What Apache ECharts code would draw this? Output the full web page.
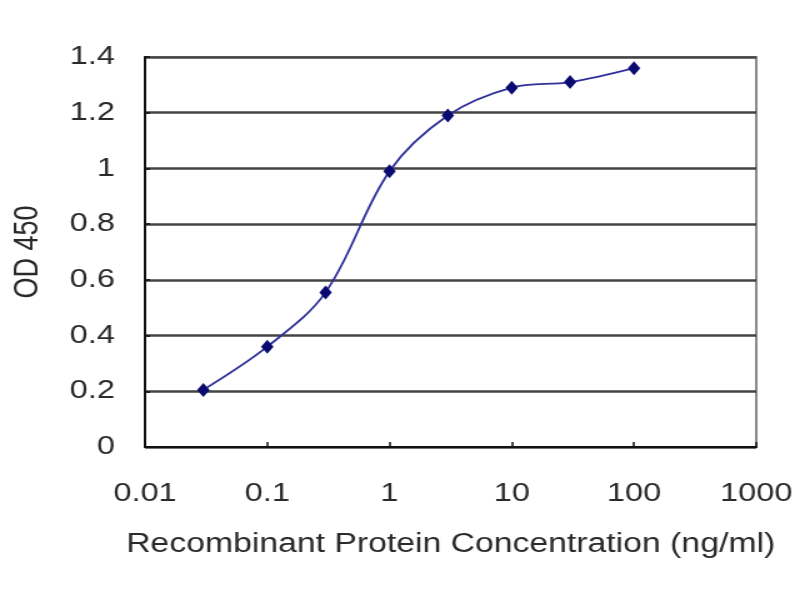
<!DOCTYPE html>
<html>
<head>
<meta charset="utf-8">
<script src="https://cdn.jsdelivr.net/npm/echarts@6/dist/echarts.min.js"></script>
<style>
  html, body { margin: 0; padding: 0; background: #fff; overflow: hidden; }
  #wrap { width: 800px; height: 600px; overflow: hidden; }
  #chart { width: 640px; height: 600px; transform: scaleX(1.25); transform-origin: 0 0; }
</style>
</head>
<body>
<div id="wrap"><div id="chart"></div></div>
<script>
// Data
const concentrations = [0.03, 0.1, 0.3, 1, 3, 10, 30, 100];
const odValues = [0.205, 0.36, 0.555, 0.99, 1.19, 1.29, 1.31, 1.36];
const xTickLabels = ['0.01', '0.1', '1', '10', '100', '1000'];
const yTicks = [0, 0.2, 0.4, 0.6, 0.8, 1, 1.2, 1.4];
const xTitle = 'Recombinant Protein Concentration (ng/ml)';
const yTitle = 'OD 450';

const chart = echarts.init(document.getElementById('chart'), null, { renderer: 'canvas' });
const font = '"Liberation Sans", Arial, sans-serif';

chart.setOption({
  animation: false,
  backgroundColor: '#ffffff',
  grid: {
    left: 116, right: 35, top: 57, bottom: 153,
    show: true, borderColor: '#8a8a8a', borderWidth: 2, backgroundColor: 'transparent'
  },
  xAxis: {
    type: 'log',
    logBase: 10,
    min: 0.01,
    max: 1000,
    name: xTitle,
    nameLocation: 'middle',
    nameGap: 84,
    nameTextStyle: { fontFamily: font, fontSize: 27, color: '#2a2a2a' },
    axisLine: { show: true, onZero: false, lineStyle: { color: '#111', width: 2 } },
    axisTick: { show: true, inside: true, length: 5, lineStyle: { color: '#111', width: 1.5 } },
    minorTick: { show: false },
    splitLine: { show: false },
    axisLabel: {
      fontFamily: font, fontSize: 26, color: '#2a2a2a', margin: 34,
      formatter: function (v) {
        const idx = Math.round(Math.log10(v)) + 2;
        return xTickLabels[idx] !== undefined ? xTickLabels[idx] : '';
      }
    }
  },
  yAxis: {
    type: 'value',
    min: yTicks[0],
    max: yTicks[yTicks.length - 1],
    interval: 0.2,
    name: yTitle,
    nameLocation: 'middle',
    nameGap: 80,
    nameRotate: 90,
    nameTextStyle: { fontFamily: font, fontSize: 27, color: '#2a2a2a' },
    axisLine: { show: true, lineStyle: { color: '#111', width: 2 } },
    axisTick: { show: true, inside: true, length: 4, lineStyle: { color: '#111', width: 1.5 } },
    splitLine: { show: true, lineStyle: { color: '#444', width: 2.5 } },
    axisLabel: {
      fontFamily: font, fontSize: 26, color: '#2a2a2a', margin: 24,
      formatter: function (v) { return String(Math.round(v * 10) / 10); }
    }
  },
  series: [{
    type: 'line',
    data: concentrations.map((c, i) => [c, odValues[i]]),
    smooth: 0.35,
    symbol: 'diamond',
    symbolSize: [10, 14],
    itemStyle: { color: '#0a0a70' },
    lineStyle: { color: '#30309a', width: 1.8 },
    z: 5
  }]
});
</script>
</body>
</html>
